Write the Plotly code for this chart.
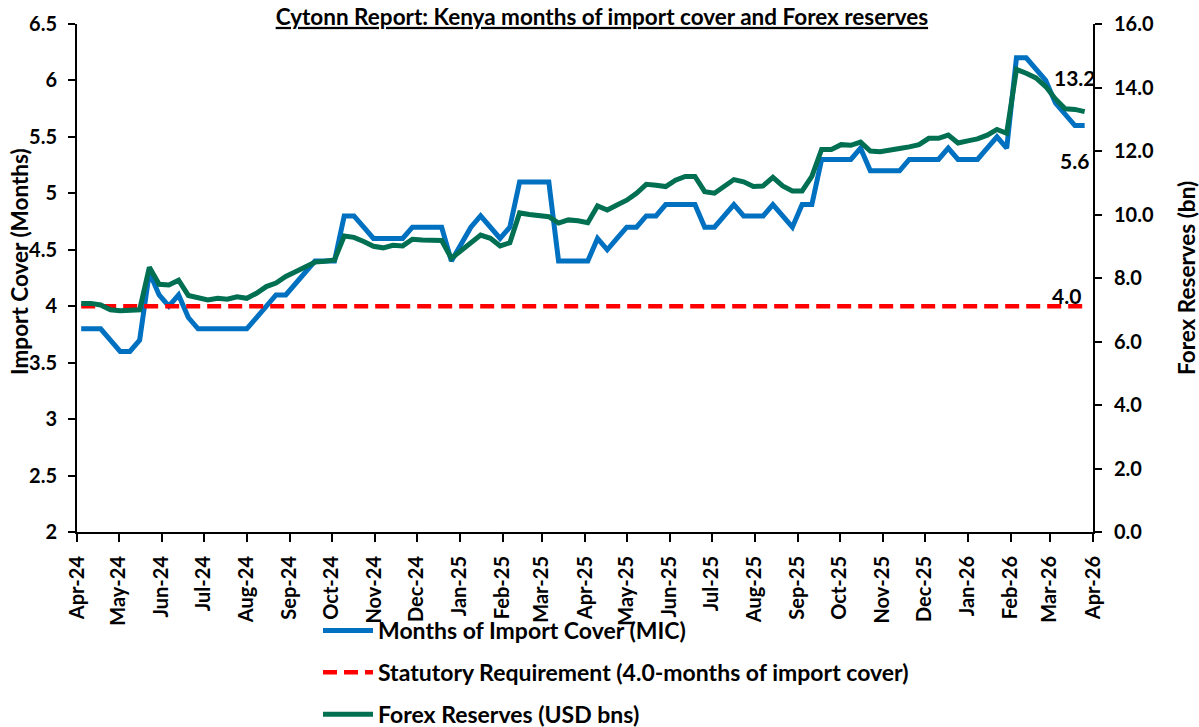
import pandas as pd
import plotly.graph_objects as go

# ---------------- data ----------------
dates = pd.date_range("2024-04-04", periods=104, freq="7D")

mic = [3.8, 3.8, 3.8, 3.7, 3.6, 3.6, 3.7, 4.3, 4.1, 4.0, 4.1, 3.9, 3.8, 3.8, 3.8, 3.8,
       3.8, 3.8, 3.9, 4.0, 4.1, 4.1,
       4.2, 4.3, 4.4, 4.4, 4.4, 4.8, 4.8, 4.7, 4.6, 4.6, 4.6, 4.6, 4.7, 4.7, 4.7, 4.7,
       4.4, 4.55, 4.7, 4.8, 4.7, 4.6, 4.7, 5.1, 5.1, 5.1, 5.1, 4.4, 4.4, 4.4, 4.4, 4.6,
       4.5, 4.6, 4.7, 4.7, 4.8,
       4.8, 4.9, 4.9, 4.9, 4.9, 4.7, 4.7, 4.8, 4.9, 4.8, 4.8, 4.8, 4.9, 4.8, 4.7, 4.9,
       4.9, 5.3, 5.3, 5.3, 5.3, 5.4, 5.2, 5.2, 5.2, 5.2,
       5.3, 5.3, 5.3, 5.3, 5.4, 5.3, 5.3, 5.3, 5.4, 5.5, 5.4, 6.2, 6.2, 6.1, 6.0, 5.8,
       5.7, 5.6, 5.6]

forex = [7.2, 7.2, 7.15, 7.0, 6.97, 6.98, 7.0, 8.34, 7.8, 7.78, 7.93, 7.45, 7.37, 7.31,
         7.36, 7.33, 7.41, 7.36, 7.52, 7.73, 7.84, 8.05,
         8.2, 8.36, 8.5, 8.53, 8.57, 9.32, 9.28, 9.15, 9.0, 8.95, 9.03, 9.01, 9.22, 9.2,
         9.19, 9.18, 8.62, 8.88, 9.14, 9.35, 9.25, 9.01, 9.11, 10.05, 10.0, 9.96, 9.93,
         9.73, 9.83, 9.8, 9.74, 10.27, 10.14, 10.3, 10.45, 10.67, 10.95,
         10.92, 10.88, 11.08, 11.2, 11.2, 10.72, 10.67, 10.9, 11.1, 11.03, 10.88, 10.9,
         11.17, 10.9, 10.74, 10.74, 11.2, 12.05, 12.05, 12.2, 12.18, 12.28, 12.0, 11.98,
         12.05, 12.08,
         12.13, 12.2, 12.4, 12.4, 12.5, 12.25, 12.32, 12.38, 12.5, 12.68, 12.56, 14.57,
         14.45, 14.3, 14.03, 13.64, 13.33, 13.31, 13.24]

statutory_level = 4.0
statutory = [statutory_level] * len(dates)

names = ["Months of Import Cover (MIC)",
         "Statutory Requirement (4.0-months of import cover)",
         "Forex Reserves (USD bns)"]
title_text = "Cytonn Report: Kenya months of import cover and Forex reserves"
left_title = "Import Cover (Months)"
right_title = "Forex Reserves (bn)"

# ---------------- style ----------------
FONT = "Lato, 'Open Sans', sans-serif"
BLUE = "#0070C0"
GREEN = "#006F52"
RED = "#FF0000"

fig = go.Figure()
fig.add_trace(go.Scatter(x=dates, y=mic, name=names[0], mode="lines",
                         line=dict(color=BLUE, width=5), legendgroup="a"))
fig.add_trace(go.Scatter(x=dates, y=statutory, name=names[1], mode="lines",
                         line=dict(color=RED, width=4.5, dash="14px,7px"), legendgroup="b"))
fig.add_trace(go.Scatter(x=dates, y=forex, name=names[2], mode="lines", yaxis="y2",
                         line=dict(color=GREEN, width=5), legendgroup="c"))

tick_font = dict(family=FONT, size=20, color="black", weight="bold")

fig.update_layout(
    width=1199, height=727, autosize=False,
    margin=dict(l=77, r=106, t=24, b=195, autoexpand=False),
    paper_bgcolor="white", plot_bgcolor="white",
    font=dict(family=FONT, color="black"),
    title=dict(text="<u>" + title_text + "</u>", x=0.502, xanchor="center",
               y=1 - 17 / 727, yanchor="middle", yref="container",
               font=dict(family=FONT, size=22.5, color="black", weight="bold")),
    xaxis=dict(type="date", range=["2024-04-01", "2026-04-01"],
               tickmode="linear", tick0="2024-04-01", dtick="M1",
               tickformat="%b-%y", tickangle=-90,
               tickfont=dict(family=FONT, size=20, color="black", weight="bold"),
               ticklabelstandoff=6, automargin=False,
               showline=True, linecolor="black", linewidth=2,
               ticks="outside", ticklen=8, tickwidth=2, tickcolor="black",
               showgrid=False, zeroline=False),
    yaxis=dict(range=[2, 6.5], tickmode="linear", tick0=2, dtick=0.5,
               tickfont=tick_font, ticklabelstandoff=7, automargin=False,
               showline=True, linecolor="black", linewidth=2,
               ticks="outside", ticklen=7, tickwidth=2, tickcolor="black",
               showgrid=False, zeroline=False),
    yaxis2=dict(range=[0, 16], tickmode="linear", tick0=0, dtick=2, tickformat=".1f",
                overlaying="y", side="right", tickfont=tick_font,
                ticklabelstandoff=8, automargin=False,
                showline=True, linecolor="black", linewidth=2,
                ticks="outside", ticklen=7, tickwidth=2, tickcolor="black",
                showgrid=False, zeroline=False),
    legend=dict(x=(318 - 77) / 1016, y=(532 - 609) / 508, xanchor="left", yanchor="top",
                orientation="v", bgcolor="rgba(0,0,0,0)", tracegroupgap=9,
                font=dict(family=FONT, size=23, color="black", weight="bold"),
                itemwidth=50),
    showlegend=True,
)

ann_font = dict(family=FONT, size=22.5, color="black", weight="bold")
lbl_font = dict(family=FONT, size=21, color="black", weight="bold")
fig.add_annotation(text=left_title, xref="paper", yref="paper",
                   x=(19 - 77) / 1016, y=(532 - 262) / 508, textangle=-90,
                   showarrow=False, font=ann_font, xanchor="center", yanchor="middle")
fig.add_annotation(text=right_title, xref="paper", yref="paper",
                   x=(1186 - 77) / 1016, y=(532 - 278) / 508, textangle=-90,
                   showarrow=False, font=ann_font, xanchor="center", yanchor="middle")

# data labels for the last points
fig.add_annotation(text=f"{forex[-1]:.1f}", x=dates[-1], y=forex[-1], xref="x", yref="y2",
                   showarrow=False, font=lbl_font, xshift=-10, yshift=34)
fig.add_annotation(text=f"{mic[-1]:.1f}", x=dates[-1], y=mic[-1], xref="x", yref="y",
                   showarrow=False, font=lbl_font, xshift=-10, yshift=-35)
fig.add_annotation(text=f"{statutory[-1]:.1f}", x=dates[-1], y=statutory[-1], xref="x", yref="y",
                   showarrow=False, font=lbl_font, xshift=-18, yshift=11)

fig.write_html("out.html", config={"displayModeBar": False},
               post_script="document.body.style.margin='0';document.body.style.overflow='hidden';")
